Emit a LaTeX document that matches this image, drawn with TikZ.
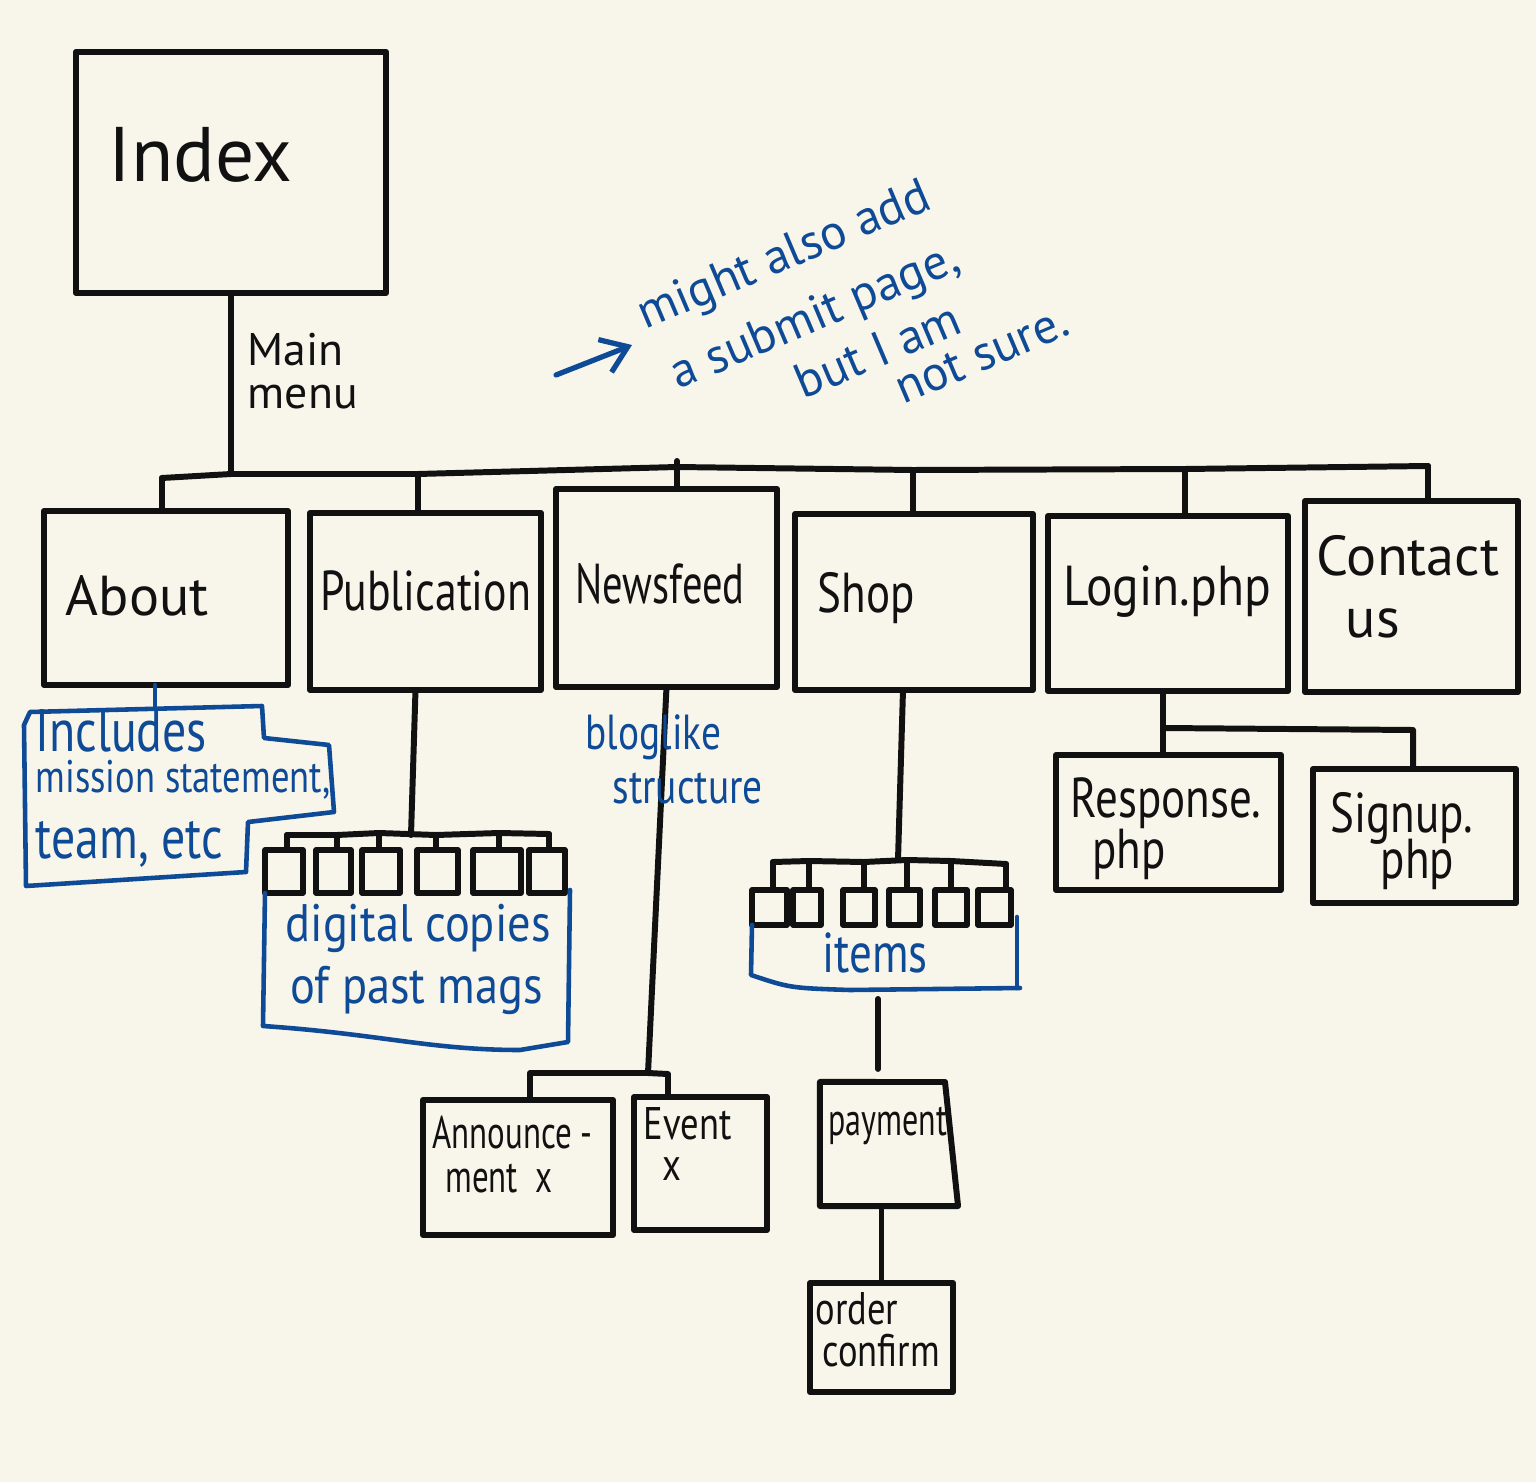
\documentclass[tikz,border=0pt]{standalone}
\usepackage{fontspec}
\setmainfont{PT Sans}
\usetikzlibrary{arrows.meta}
\definecolor{paper}{HTML}{F8F6EB}
\definecolor{ink}{HTML}{111111}
\definecolor{pen}{HTML}{0E4A96}
\newcommand\hwfont[2]{\fontsize{#1}{#2}\selectfont\lineskiplimit=-100pt\relax}
\begin{document}
\begin{tikzpicture}[x=0.01cm,y=-0.01cm,
  box/.style={draw=ink, line width=1.7pt, inner sep=0pt, outer sep=0pt, line join=round},
  sq/.style={box, line width=1.6pt},
  link/.style={draw=ink, line width=1.7pt, line cap=round, line join=round},
  note/.style={draw=pen, line width=1.3pt, line cap=round, line join=round},
  txt/.style={text=ink, anchor=base west, inner sep=0pt, align=left},
  ntxt/.style={text=pen, anchor=base west, inner sep=0pt, align=left},
]
\fill[paper] (0,0) rectangle (1536,1482);
\useasboundingbox (0,0) rectangle (1536,1482);

% main boxes
\node[box, minimum width=3.10cm, minimum height=2.41cm] (index) at (231,172.5) {};
\node[box, minimum width=2.44cm, minimum height=1.74cm] (about) at (166,598) {};
\node[box, minimum width=2.31cm, minimum height=1.77cm] (pub) at (425.5,601.5) {};
\node[box, minimum width=2.21cm, minimum height=1.98cm] (news) at (666.5,588) {};
\node[box, minimum width=2.38cm, minimum height=1.76cm] (shop) at (914,602) {};
\node[box, minimum width=2.40cm, minimum height=1.75cm] (login) at (1168,603.5) {};
\node[box, minimum width=2.13cm, minimum height=1.91cm] (contact) at (1411.5,596.5) {};
\node[box, minimum width=2.25cm, minimum height=1.35cm] (resp) at (1168.5,822.5) {};
\node[box, minimum width=2.03cm, minimum height=1.34cm] (signup) at (1414.5,836) {};
\node[box, minimum width=1.90cm, minimum height=1.35cm] (ann) at (518,1167.5) {};
\node[box, minimum width=1.33cm, minimum height=1.33cm] (event) at (700.5,1163.5) {};
\node[inner sep=0pt, outer sep=0pt, minimum width=1.38cm, minimum height=1.24cm] (pay) at (889,1144) {};
\draw[box] (pay.north west) -- (945,1082) -- (pay.south east) -- (pay.south west) -- cycle;
\node[box, minimum width=1.43cm, minimum height=1.09cm] (order) at (881.5,1337.5) {};

% labels (anchor = baseline of the last line)
\node[txt, font=\hwfont{22}{26}] (indext) at (108,182) {Index};
\node[txt, font=\hwfont{13}{12.2}] (mainm) at (247,408) {Main\\menu};
\node[txt, font=\hwfont{16}{18}] (aboutt) at (65,615) {About};
\node[txt, font=\hwfont{16}{18}, xscale=0.78] (pubt) at (320,610) {Publication};
\node[txt, font=\hwfont{16}{18}, xscale=0.72] (newst) at (575,603) {Newsfeed};
\node[txt, font=\hwfont{16}{18}, xscale=0.8] (shopt) at (817,612) {Shop};
\node[txt, font=\hwfont{16}{18}, xscale=0.88] (logint) at (1063,605) {Login.php};
\node[txt, font=\hwfont{16}{17.6}] (contt) at (1316,637) {Contact\\\hspace*{8.3pt}us};
\node[txt, font=\hwfont{16}{14.5}, xscale=0.8] (respt) at (1070,868) {Response.\\\hspace*{7.8pt}php};
\node[txt, font=\hwfont{16}{12.8}, xscale=0.8] (signt) at (1330,878) {Signup.\\\hspace*{17.8pt}php};
\node[txt, font=\hwfont{13}{12.5}, xscale=0.72] (annt) at (432,1192) {Announce -\\\hspace*{5.1pt}ment\ \ x};
\node[txt, font=\hwfont{13}{11.4}, xscale=0.8] (evt) at (643,1180) {Event\\\hspace*{6.8pt}x};
\node[txt, font=\hwfont{13}{15}, xscale=0.7] (payt) at (828,1135) {payment};
\node[txt, font=\hwfont{13}{11.7}, xscale=0.8] (ordt) at (815,1366) {order\\\hspace*{2.5pt}confirm};

% main bus
\coordinate (bi) at (231,474);
\coordinate (ba) at (162,478);
\coordinate (bp) at (418,474);
\coordinate (bn) at (677,467);
\coordinate (bnt) at (677,461);
\coordinate (bs) at (913,470);
\coordinate (bl) at (1185,469);
\coordinate (bc) at (1428,466);
\draw[link] (index.south) -- (bi);
\draw[link] (ba) -- (bi) -- (bp) -- (bn) -- (bs) -- (bl) -- (bc);
\draw[link] (ba) -- (ba |- about.north);
\draw[link] (bp) -- (bp |- pub.north);
\draw[link] (bnt) -- (bnt |- news.north);
\draw[link] (bs) -- (bs |- shop.north);
\draw[link] (bl) -- (bl |- login.north);
\draw[link] (bc) -- (bc |- contact.north);

% about note
\draw[note] ([xshift=-0.11cm]about.south) -- ++(0,22);
\draw[note] (24,725) -- (30,712) -- (262,706) -- (264,738) -- (329,745) -- (334,812) -- (248,822) -- (246,872) -- (26,886) -- cycle;
\node[ntxt, font=\hwfont{17}{11.7}, xscale=0.8] (inct) at (35,858) {Includes\\{\fontsize{13}{11.7}\selectfont mission statement,}\\[6.8pt]team, etc};

% publication children
\coordinate (pb) at (411,835);
\draw[link] ([xshift=-0.1cm]pub.south) -- (pb);
\node[sq, minimum width=0.38cm, minimum height=0.43cm] (p1) at (284,871.5) {};
\node[sq, minimum width=0.35cm, minimum height=0.43cm] (p2) at (333.5,871.5) {};
\node[sq, minimum width=0.38cm, minimum height=0.43cm] (p3) at (381,871.5) {};
\node[sq, minimum width=0.41cm, minimum height=0.43cm] (p4) at (437.5,871.5) {};
\node[sq, minimum width=0.48cm, minimum height=0.43cm] (p5) at (497,871.5) {};
\node[sq, minimum width=0.36cm, minimum height=0.43cm] (p6) at (547,871.5) {};
\coordinate (q1) at (287,835);
\coordinate (q2) at (337,835);
\coordinate (q3) at (379,833);
\coordinate (q4) at (436,835);
\coordinate (q5) at (499,833);
\coordinate (q6) at (549,834);
\draw[link] (q1) -- (q2) -- (q3) -- (q4) -- (q5) -- (q6);
\foreach \i in {1,...,6} {\draw[link] (q\i) -- (q\i |- p\i.north);}
\draw[note] (p1.south west) -- (263,1026) .. controls (380,1034) and (430,1050) .. (520,1050) -- (568,1042) -- (570,890);
\node[ntxt, font=\hwfont{15}{17.4}, xscale=0.88] (digt) at (285,1003) {digital copies\\\hspace*{1.6pt}of past mags};

% newsfeed children
\coordinate (nb) at (648,1073);
\coordinate (na) at (530,1073);
\coordinate (ne) at (668,1074);
\draw[link] (news.south) -- (nb);
\draw[link] (na |- ann.north) -- (na) -- (nb) -- (ne) -- (ne |- event.north);
\node[ntxt, font=\hwfont{14}{15.1}, xscale=0.8] (blogt) at (585,803) {bloglike\\\hspace*{9.6pt}structure};

% shop children
\coordinate (sb) at (898,860);
\draw[link] ([xshift=-0.11cm]shop.south) -- (sb);
\node[sq, minimum width=0.35cm, minimum height=0.35cm] (s1) at (769.5,907.5) {};
\node[sq, minimum width=0.28cm, minimum height=0.35cm] (s2) at (807,907.5) {};
\node[sq, minimum width=0.32cm, minimum height=0.35cm] (s3) at (859,907.5) {};
\node[sq, minimum width=0.31cm, minimum height=0.35cm] (s4) at (904.5,907.5) {};
\node[sq, minimum width=0.32cm, minimum height=0.35cm] (s5) at (951,907.5) {};
\node[sq, minimum width=0.33cm, minimum height=0.35cm] (s6) at (994.5,907.5) {};
\coordinate (r1) at (773,862);
\coordinate (r2) at (809,861);
\coordinate (r3) at (864,862);
\coordinate (r4) at (907,860);
\coordinate (r5) at (951,861);
\coordinate (r6) at (1006,864);
\draw[link] (r1) -- (r2) -- (r3) -- (r4) -- (r5) -- (r6);
\foreach \i in {1,...,6} {\draw[link] (r\i) -- (r\i |- s\i.north);}
\draw[note] (s1.south west) -- (751,975) .. controls (790,988) .. (850,990) -- (1020,988);
\draw[note] (1017,917) -- (1017,988);
\node[ntxt, font=\hwfont{16}{18}, xscale=0.8] (items) at (822,972) {items};
\coordinate (ib) at (878,999);
\coordinate (paytop) at ([yshift=0.13cm]pay.north);
\draw[link] (ib) -- (ib |- paytop);
\draw[link] (order.north |- pay.south) -- (order.north);

% login children
\coordinate (lb) at (1163,728);
\coordinate (lr) at (1413,730);
\draw[link] (lb |- login.south) -- (lb |- resp.north);
\draw[link] (lb) -- (lr) -- (lr |- signup.north);

% annotation
\coordinate (arA) at (556,375);
\coordinate (arB) at (632,345);
\draw[note, line width=1.5pt, -{Straight Barb[length=7pt,width=10pt]}] (arA) .. controls (590,362) .. (arB);
\node[ntxt, font=\hwfont{14}{14}, rotate=23] (subt) at (711.5,486.6) {might also add\\[5.3pt]\hspace*{2pt}a submit page,\\[2.5pt]\hspace*{33.6pt}but I am\\[-1.5pt]\hspace*{59.2pt}not sure.};
\end{tikzpicture}
\end{document}
